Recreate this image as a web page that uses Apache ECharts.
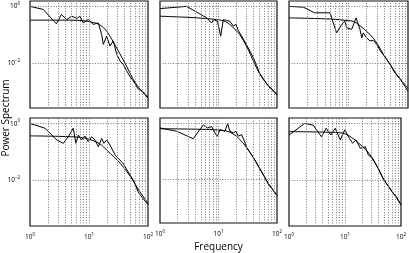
<!DOCTYPE html>
<html><head><meta charset="utf-8">
<script src="https://cdn.jsdelivr.net/npm/echarts@6/dist/echarts.min.js"></script>
<style>html,body{margin:0;padding:0;background:#fff}#c{width:409px;height:253px}</style>
</head><body><div id="c"></div>
<script>
// ---- data (frequency, power) ----
const xTickLabels = ['10{s|0}', '10{s|1}', '10{s|2}'];
const yTickValues = [0.01, 1];
const yTickLabels = ['10{s|−2}', '10{s|0}'];
const gridFreqs = [2,3,4,5,6,7,8,9,10,20,30,40,50,60,70,80,90];
const gridPowers = [0.01, 1];

const p1FitF = [1,5,8,10,15,20,30,43,56,70,100];
const p1FitP = [0.331,0.331,0.316,0.295,0.229,0.132,0.0316,0.00794,0.00263,0.00132,0.000562];
const p1SpecF = [1,1.68,2.8,3.4,4.2,5.1,6.3,7.0,8.0,9.7,11.8,14.4,16.4,17.5,19.9,22.7,25.8,29.5,33.6,38,43.6,50,56.4,68.5,80,100];
const p1SpecP = [1.02,0.794,0.245,0.525,0.347,0.457,0.380,0.457,0.263,0.347,0.234,0.263,0.102,0.0457,0.0891,0.0398,0.0603,0.0204,0.0117,0.00891,0.00525,0.00316,0.00229,0.00117,0.001,0.000631];

const p2FitF = [1,3,6,10,12,15,20,23,30,35,50,70,100];
const p2FitP = [0.457,0.417,0.380,0.339,0.316,0.251,0.141,0.102,0.0398,0.0204,0.00427,0.00158,0.000708];
const p2SpecF = [1,2.86,6.3,7.65,8.2,9.6,10.9,12.1,13.8,15.7,17.9,19.9,21.8,25,30,34.5,39.4,45,50,60,70,85,100];
const p2SpecP = [0.851,1.02,0.398,0.263,0.347,0.302,0.0891,0.347,0.324,0.302,0.204,0.234,0.141,0.0891,0.0447,0.0263,0.0155,0.00794,0.00447,0.00251,0.00158,0.00112,0.000794];

const p3FitF = [1,5,10,12,15,23,30,38.5,50,64,80,100];
const p3FitP = [0.398,0.363,0.316,0.302,0.224,0.102,0.0501,0.0204,0.00891,0.00398,0.00224,0.00126];
const p3SpecF = [1,1.74,2.7,4.9,6.3,7.7,8.7,9.3,11.3,13.4,15.6,16.7,17.7,20,23,26,29.8,35,40,50,60,75,90,100];
const p3SpecP = [1.02,0.955,0.603,0.603,0.117,0.234,0.302,0.178,0.155,0.398,0.155,0.0776,0.117,0.0794,0.0603,0.0631,0.0457,0.0251,0.0178,0.00891,0.00447,0.00251,0.00141,0.001];

const p4FitF = [1,5,9,15,20,34,56,68,100];
const p4FitP = [0.372,0.347,0.302,0.2,0.117,0.0398,0.01,0.00501,0.00158];
const p4SpecF = [1,1.8,2.83,3.67,4.46,5.4,6.0,6.6,7.5,8.5,9.7,11.1,12.6,14.4,16.4,17.9,20,22.7,27.6,31.4,38,46,56,68,80,100];
const p4SpecP = [1.02,0.692,0.269,0.204,0.347,0.692,0.204,0.398,0.269,0.372,0.234,0.347,0.269,0.155,0.302,0.204,0.269,0.178,0.0794,0.0603,0.0398,0.0204,0.0105,0.00398,0.00251,0.00141];

const p5FitF = [1,5,12,17,23,34.5,51,71,100];
const p5FitP = [0.646,0.617,0.562,0.447,0.269,0.0912,0.0234,0.00692,0.00251];
const p5SpecF = [1,1.93,3.7,5.5,6.45,7.65,8.7,9.6,10.6,12.9,14.3,15.7,17.9,19.9,21.8,24.9,28.3,30.3,34.5,40,51,60,71,85,100];
const p5SpecP = [0.692,0.525,0.282,0.891,0.692,0.776,0.457,0.347,0.603,0.525,0.977,0.525,0.457,0.525,0.347,0.398,0.204,0.135,0.0891,0.0562,0.0224,0.0126,0.00631,0.00398,0.00251];

const p6FitF = [1,5,9.3,13,17.7,29.8,49.7,73,100];
const p6FitP = [0.525,0.501,0.457,0.331,0.204,0.0692,0.0105,0.00355,0.00141];
const p6SpecF = [1,1.9,2.7,3.8,4.6,5.6,6.7,8.2,9.9,12,13.7,15.6,18.9,23,26,30,40,50,60,73,85,100];
const p6SpecP = [0.398,1.02,0.891,0.347,0.692,0.398,0.692,0.269,0.603,0.302,0.204,0.269,0.135,0.155,0.0794,0.0631,0.0251,0.01,0.00631,0.00355,0.00251,0.00141];

const panels = [
  [p1FitF,p1FitP,p1SpecF,p1SpecP],
  [p2FitF,p2FitP,p2SpecF,p2SpecP],
  [p3FitF,p3FitP,p3SpecF,p3SpecP],
  [p4FitF,p4FitP,p4SpecF,p4SpecP],
  [p5FitF,p5FitP,p5SpecF,p5SpecP],
  [p6FitF,p6FitP,p6SpecF,p6SpecP]
];

// ---- layout ----
const cols = [{left:30,width:118},{left:160,width:117},{left:289,width:119}];
const rows = [{top:1,height:107},{top:118,height:108}];
const FONT = 'Open Sans';
const rich = {s:{fontSize:4.5,verticalAlign:'top',padding:[0,0,5,0],fontFamily:FONT,color:'#000'}};
const pair = (a,b)=>a.map((v,i)=>[v,b[i]]);

const grid=[], xAxis=[], yAxis=[], series=[];
panels.forEach((p,i)=>{
  const r = Math.floor(i/3), c = i%3;
  grid.push({left:cols[c].left, width:cols[c].width, top:rows[r].top, height:rows[r].height,
    show:true, borderColor:'#111', borderWidth:1.2, containLabel:false});
  xAxis.push({gridIndex:i, type:'log', logBase:10, min:1, max:100,
    axisLine:{show:false}, axisTick:{show:false}, splitLine:{show:false},
    axisLabel:{show:r===1, margin:6, fontSize:6.5, fontFamily:FONT, color:'#000', rich:rich,
      formatter:(v)=>xTickLabels[Math.round(Math.log10(v))]},
    name: (i===4)?'Frequency':'', nameLocation:'middle', nameGap:19,
    nameTextStyle:{fontSize:10, fontFamily:FONT, color:'#000'}});
  yAxis.push({gridIndex:i, type:'log', logBase:10, min:Math.pow(10,-3.6), max:Math.pow(10,0.2),
    axisLine:{show:false}, axisTick:{show:false}, splitLine:{show:false},
    axisLabel:{show:c===0, margin:10, fontSize:6.5, fontFamily:FONT, color:'#000', rich:rich,
      customValues:yTickValues,
      formatter:(v)=>{const k=yTickValues.findIndex(t=>Math.abs(Math.log10(t)-Math.log10(v))<1e-6);return k>=0?yTickLabels[k]:'';}}});
  series.push({type:'line', xAxisIndex:i, yAxisIndex:i, data:[], silent:true, z:1,
    markLine:{silent:true, symbol:'none', label:{show:false}, animation:false,
      lineStyle:{color:'#777', type:[1,1.6], width:1},
      data: gridFreqs.map(f=>({xAxis:f})).concat(gridPowers.map(pw=>({yAxis:pw})))}});
  series.push({type:'line', xAxisIndex:i, yAxisIndex:i, data:pair(p[0],p[1]), smooth:0.35,
    showSymbol:false, z:3, lineStyle:{color:'#000', width:1}, animation:false});
  series.push({type:'line', xAxisIndex:i, yAxisIndex:i, data:pair(p[2],p[3]),
    showSymbol:false, z:3, lineStyle:{color:'#000', width:1}, animation:false});
});

const chart = echarts.init(document.getElementById('c'), null, {renderer:'canvas'});
chart.setOption({
  animation:false, backgroundColor:'#fff',
  grid, xAxis, yAxis, series,
  graphic:[{type:'text', x:1, y:118, rotation:Math.PI/2,
    style:{text:'Power Spectrum', font:'10px "Open Sans"', fill:'#000', textAlign:'center', textVerticalAlign:'top'}}]
});
</script></body></html>
